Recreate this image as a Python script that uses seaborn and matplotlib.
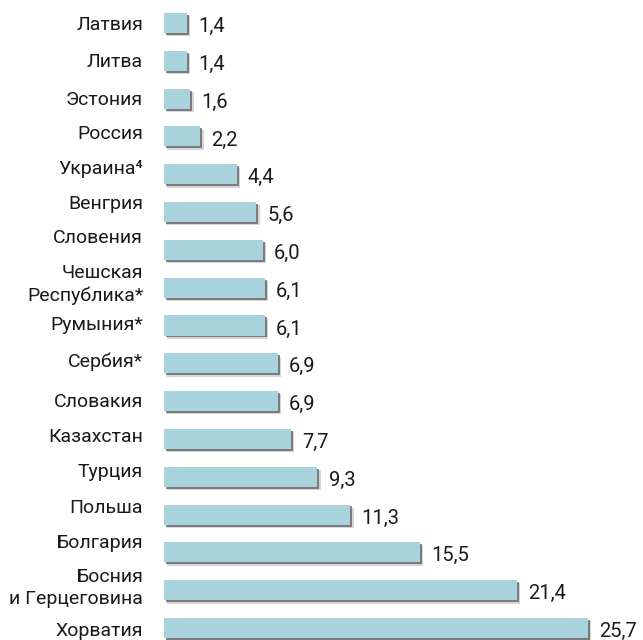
import matplotlib
matplotlib.use("Agg")
import matplotlib.pyplot as plt
import matplotlib.patheffects as pe
import seaborn as sns
import pandas as pd

countries = ["Латвия", "Литва", "Эстония", "Россия", "Украина⁴", "Венгрия",
             "Словения", "Чешская\nРеспублика*", "Румыния*", "Сербия*", "Словакия",
             "Казахстан", "Турция", "Польша", "Болгария", "Босния\nи Герцеговина",
             "Хорватия"]
values = [1.4, 1.4, 1.6, 2.2, 4.4, 5.6, 6.0, 6.1, 6.1, 6.9, 6.9, 7.7, 9.3,
          11.3, 15.5, 21.4, 25.7]
value_labels = ["1,4", "1,4", "1,6", "2,2", "4,4", "5,6", "6,0", "6,1", "6,1",
                "6,9", "6,9", "7,7", "9,3", "11,3", "15,5", "21,4", "25,7"]

# layout only: how far (px) each category label sits above its bar centre
label_raise_px = [1, 1, 1, 5, 8, 11, 14, 6, 3, 4, 2, 4, 7, 9, 12, 5, -1]

df = pd.DataFrame({"country": countries, "value": values})

sns.set_style("white")
plt.rcParams['font.family'] = ['Roboto', 'DejaVu Sans']

fig = plt.figure(figsize=(6.43, 6.40), dpi=100)
ax = fig.add_axes([164/643, 0, 1 - 164/643, 1])

sns.barplot(data=df, x="value", y="country", orient="h", color="#a8d3dc",
            saturation=1, width=0.53, linewidth=0, ax=ax)

for p in ax.patches:
    p.set_linewidth(0)
    p.set_path_effects([
        pe.SimplePatchShadow(offset=(2.4, -2.4), shadow_rgbFace="#888888", alpha=0.35),
        pe.SimplePatchShadow(offset=(1.4, -1.4), shadow_rgbFace="#555555", alpha=0.7),
        pe.Normal()])

for p, lab in zip(ax.patches, value_labels):
    ax.annotate(lab, xy=(p.get_x() + p.get_width(), p.get_y() + p.get_height() / 2),
                xytext=(8, -2.5), textcoords="offset points", ha="left", va="center",
                fontsize=14.5, color="#1a1a1a")

# category labels on the left
px2pt = 72 / fig.dpi
for i, (name, raise_px) in enumerate(zip(countries, label_raise_px)):
    dy = (raise_px - 2.5) * px2pt
    ax.annotate(name, xy=(0, i), xytext=(-15, dy), textcoords="offset points",
                ha="right", va="center", multialignment="right", linespacing=1.3,
                fontsize=14, color="#1a1a1a", annotation_clip=False)

ax.set_xlim(0, 479/16.5)
ax.set_ylim(16 + 12/37.8, -23/37.8)
ax.set_xlabel("")
ax.set_ylabel("")
ax.set_xticks([])
ax.set_yticks(range(len(countries)))
ax.set_yticklabels([""] * len(countries))
ax.tick_params(axis="y", length=0)
sns.despine(ax=ax, left=True, bottom=True)

fig.savefig("out.png", dpi=100)
